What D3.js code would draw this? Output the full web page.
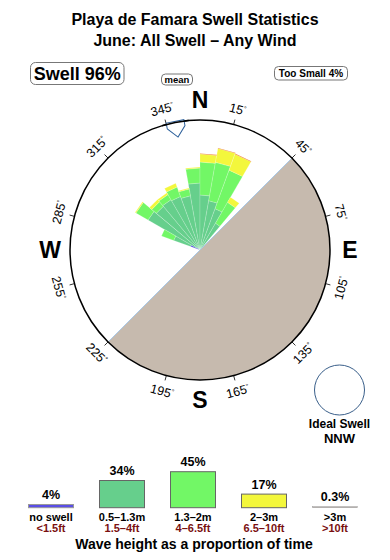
<!DOCTYPE html>
<html>
<head>
<meta charset="utf-8">
<script src="https://cdn.jsdelivr.net/npm/d3@7"></script>
<style>
body { margin: 0; background: #fff; }
svg { display: block; }
text { font-family: "Liberation Sans", Arial, Helvetica, sans-serif; }
</style>
</head>
<body>
<script>
// swell rose: direction bins (centre, degrees) and radial length of each height band
var dirs = [295, 305, 315, 325, 335, 345, 355, 5, 15, 25, 35];
var noSwell = [10, 4, 0, 0, 0, 0, 0, 0, 0, 0, 0];
var small = [18, 56, 57, 58, 57, 55, 67, 55, 50, 44, 31];   // 0.5-1.3m
var medium = [13, 14, 6, 6, 10, 7, 15, 33, 39, 41, 24];     // 1.3-2m
var large = [0, 1, 3, 2, 4, 1, 1, 8, 14, 17, 6];            // 2-3m
var huge = [0, 0, 0, 0, 0, 0, 0, 0.6, 0.6, 0.6, 0];         // >3m

var binWidth = 10;
var meanDir = 349;
var tickDegs = [15, 45, 75, 105, 135, 165, 195, 225, 255, 285, 315, 345];
var cardinals = ["N", "E", "S", "W"];
var cardinalDegs = [0, 90, 180, 270];
var landFrom = 45, landTo = 225;

// legend
var legendLabels = ["no swell", "0.5\u20131.3m", "1.3\u20132m", "2\u20133m", ">3m"];
var legendFeet = ["<1.5ft", "1.5\u20134ft", "4\u20136.5ft", "6.5\u201310ft", ">10ft"];
var legendPct = [4, 34, 45, 17, 0.3];
var bandColors = ["#5a4ee6", "#66cf8c", "#72f766", "#f3f73c", "#f0904a"];

var w = 390, h = 560,
    cx = 200, cy = 250, R = 130;

var svg = d3.select("body").append("svg")
    .attr("width", w)
    .attr("height", h);

// titles
svg.append("text").attr("x", 195).attr("y", 25)
    .attr("text-anchor", "middle").attr("font-size", 16).attr("font-weight", "bold")
    .text("Playa de Famara Swell Statistics");
svg.append("text").attr("x", 195).attr("y", 46)
    .attr("text-anchor", "middle").attr("font-size", 16).attr("font-weight", "bold")
    .text("June: All Swell \u2013 Any Wind");

function box(x, y, bw, bh, rx, size, label) {
    svg.append("rect").attr("x", x).attr("y", y).attr("width", bw).attr("height", bh)
        .attr("rx", rx).attr("fill", "#fff").attr("stroke", "#777").attr("stroke-width", 1);
    svg.append("text").attr("x", x + bw / 2).attr("y", y + bh / 2)
        .attr("dy", "0.36em").attr("text-anchor", "middle")
        .attr("font-size", size).attr("font-weight", "bold")
        .text(label);
}
box(30.5, 62.5, 93.5, 22, 5, 18, "Swell 96%");
box(161.5, 74, 31, 11, 4, 9.5, "mean");
box(274.5, 66.5, 73, 13.5, 4, 10, "Too Small 4%");

var ang = d3.scaleLinear().domain([0, 360]).range([0, 2 * Math.PI]);
var rose = svg.append("g").attr("transform", "translate(" + cx + "," + cy + ")");

// stack the bands per direction
var rows = dirs.map(function(d, i) {
    return { dir: d, b0: noSwell[i], b1: small[i], b2: medium[i], b3: large[i], b4: huge[i] };
});
var keys = ["b0", "b1", "b2", "b3", "b4"];
var stacked = d3.stack().keys(keys)(rows);
var r = d3.scaleLinear().domain([0, R]).range([0, R]);

var wedge = d3.lineRadial()
    .angle(function(p) { return ang(p[0]); })
    .radius(function(p) { return r(p[1]); })
    .curve(d3.curveLinearClosed);

stacked.forEach(function(layer, k) {
    rose.append("g").selectAll("path")
        .data(layer.filter(function(s) { return s[1] - s[0] > 0; }))
        .enter().append("path")
        .attr("d", function(s) {
            var a0 = s.data.dir - binWidth / 2, a1 = s.data.dir + binWidth / 2;
            return wedge([[a0, s[0]], [a0, s[1]], [a1, s[1]], [a1, s[0]]]);
        })
        .attr("fill", bandColors[k])
        .attr("stroke", k == 4 ? "none" : "rgba(255,255,255,0.35)")
        .attr("stroke-width", 0.5);
});

// land
rose.append("path")
    .attr("d", d3.arc()({ innerRadius: 0, outerRadius: R, startAngle: ang(landFrom), endAngle: ang(landTo) }))
    .attr("fill", "#c6baae");
var coast = d3.lineRadial().angle(function(p) { return ang(p[0]); }).radius(function(p) { return p[1]; });
rose.append("path")
    .attr("d", coast([[landFrom, R], [landTo, 0], [landTo, R]]))
    .attr("fill", "none").attr("stroke", "#a9c8e6").attr("stroke-width", 1);

// outer circle
rose.append("circle").attr("r", R)
    .attr("fill", "none").attr("stroke", "#000").attr("stroke-width", 1.5);

// ticks and degree labels
function px(deg, rad) { return rad * Math.sin(ang(deg)); }
function py(deg, rad) { return -rad * Math.cos(ang(deg)); }

rose.selectAll(".tick").data(tickDegs).enter().append("line")
    .attr("x1", function(d) { return px(d, R); })
    .attr("y1", function(d) { return py(d, R); })
    .attr("x2", function(d) { return px(d, R + 5); })
    .attr("y2", function(d) { return py(d, R + 5); })
    .attr("stroke", "#000").attr("stroke-width", 0.8);

var lab = rose.selectAll(".deg").data(tickDegs).enter().append("text")
    .attr("text-anchor", "middle")
    .attr("dy", "0.36em")
    .attr("font-size", 12.5)
    .attr("transform", function(d) {
        var rot = (d < 90 || d > 270) ? (d > 270 ? d - 360 : d) : d - 180;
        return "translate(" + px(d, 146) + "," + py(d, 146) + ") rotate(" + rot + ")";
    });
lab.append("tspan").text(function(d) { return d; });
lab.append("tspan").attr("font-size", 7).attr("dy", "-0.6em").text("\u00b0");

rose.selectAll(".card").data(cardinals).enter().append("text")
    .attr("x", function(d, i) { return px(cardinalDegs[i], 150); })
    .attr("y", function(d, i) { return py(cardinalDegs[i], 150); })
    .attr("dy", "0.36em")
    .attr("text-anchor", "middle")
    .attr("font-size", 23)
    .attr("font-weight", "bold")
    .text(function(d) { return d; });

// mean direction marker
rose.append("path")
    .attr("d", "M-9,-131 L9,-131 L9,-125 L0,-115 L-9,-125 Z")
    .attr("transform", "rotate(" + (meanDir - 360) + ")")
    .attr("fill", "#fff").attr("stroke", "#2b5f9a").attr("stroke-width", 1);
rose.append("path")
    .attr("d", d3.arc()({ innerRadius: R, outerRadius: R, startAngle: ang(meanDir - 6), endAngle: ang(meanDir + 6) }))
    .attr("stroke", "#000").attr("stroke-width", 1.5).attr("fill", "none");

// ideal swell
svg.append("circle").attr("cx", 339.5).attr("cy", 390).attr("r", 25)
    .attr("fill", "#fff").attr("stroke", "#3a5f8a").attr("stroke-width", 1);
svg.append("text").attr("x", 339.5).attr("y", 428)
    .attr("text-anchor", "middle").attr("font-size", 12).attr("font-weight", "bold")
    .text("Ideal Swell");
svg.append("text").attr("x", 339.5).attr("y", 443)
    .attr("text-anchor", "middle").attr("font-size", 13).attr("font-weight", "bold")
    .text("NNW");

// legend
var lx = d3.scalePoint().domain(legendLabels).range([51, 335]);
var lh = d3.scaleLinear().domain([0, 45]).range([0, 36]);
var base = 507.7, barW = 45;

var leg = svg.append("g").selectAll("g").data(legendLabels).enter().append("g")
    .attr("transform", function(d) { return "translate(" + lx(d) + ",0)"; });

leg.append("rect")
    .attr("x", -barW / 2)
    .attr("y", function(d, i) { return base - Math.max(lh(legendPct[i]), 1); })
    .attr("width", barW)
    .attr("height", function(d, i) { return Math.max(lh(legendPct[i]), 1); })
    .attr("fill", function(d, i) { return i == 4 ? "#b8b0aa" : bandColors[i]; })
    .attr("stroke", function(d, i) { return i == 0 || i == 4 ? "#999" : "#666"; })
    .attr("stroke-width", function(d, i) { return i == 4 ? 0.5 : 1; });

leg.append("text")
    .attr("y", function(d, i) { return base - Math.max(lh(legendPct[i]), 1) - 5.5; })
    .attr("text-anchor", "middle").attr("font-size", 12.5).attr("font-weight", "bold")
    .text(function(d, i) { return legendPct[i] + "%"; });

leg.append("text")
    .attr("y", 520.5)
    .attr("text-anchor", "middle").attr("font-size", 11).attr("font-weight", "bold")
    .text(function(d) { return d; });

leg.append("text")
    .attr("y", 532)
    .attr("text-anchor", "middle").attr("font-size", 11).attr("font-weight", "bold")
    .attr("fill", "#7a1010")
    .text(function(d, i) { return legendFeet[i]; });

svg.append("text").attr("x", 194).attr("y", 548.5)
    .attr("text-anchor", "middle").attr("font-size", 14).attr("font-weight", "bold")
    .text("Wave height as a proportion of time");
</script>
</body>
</html>
